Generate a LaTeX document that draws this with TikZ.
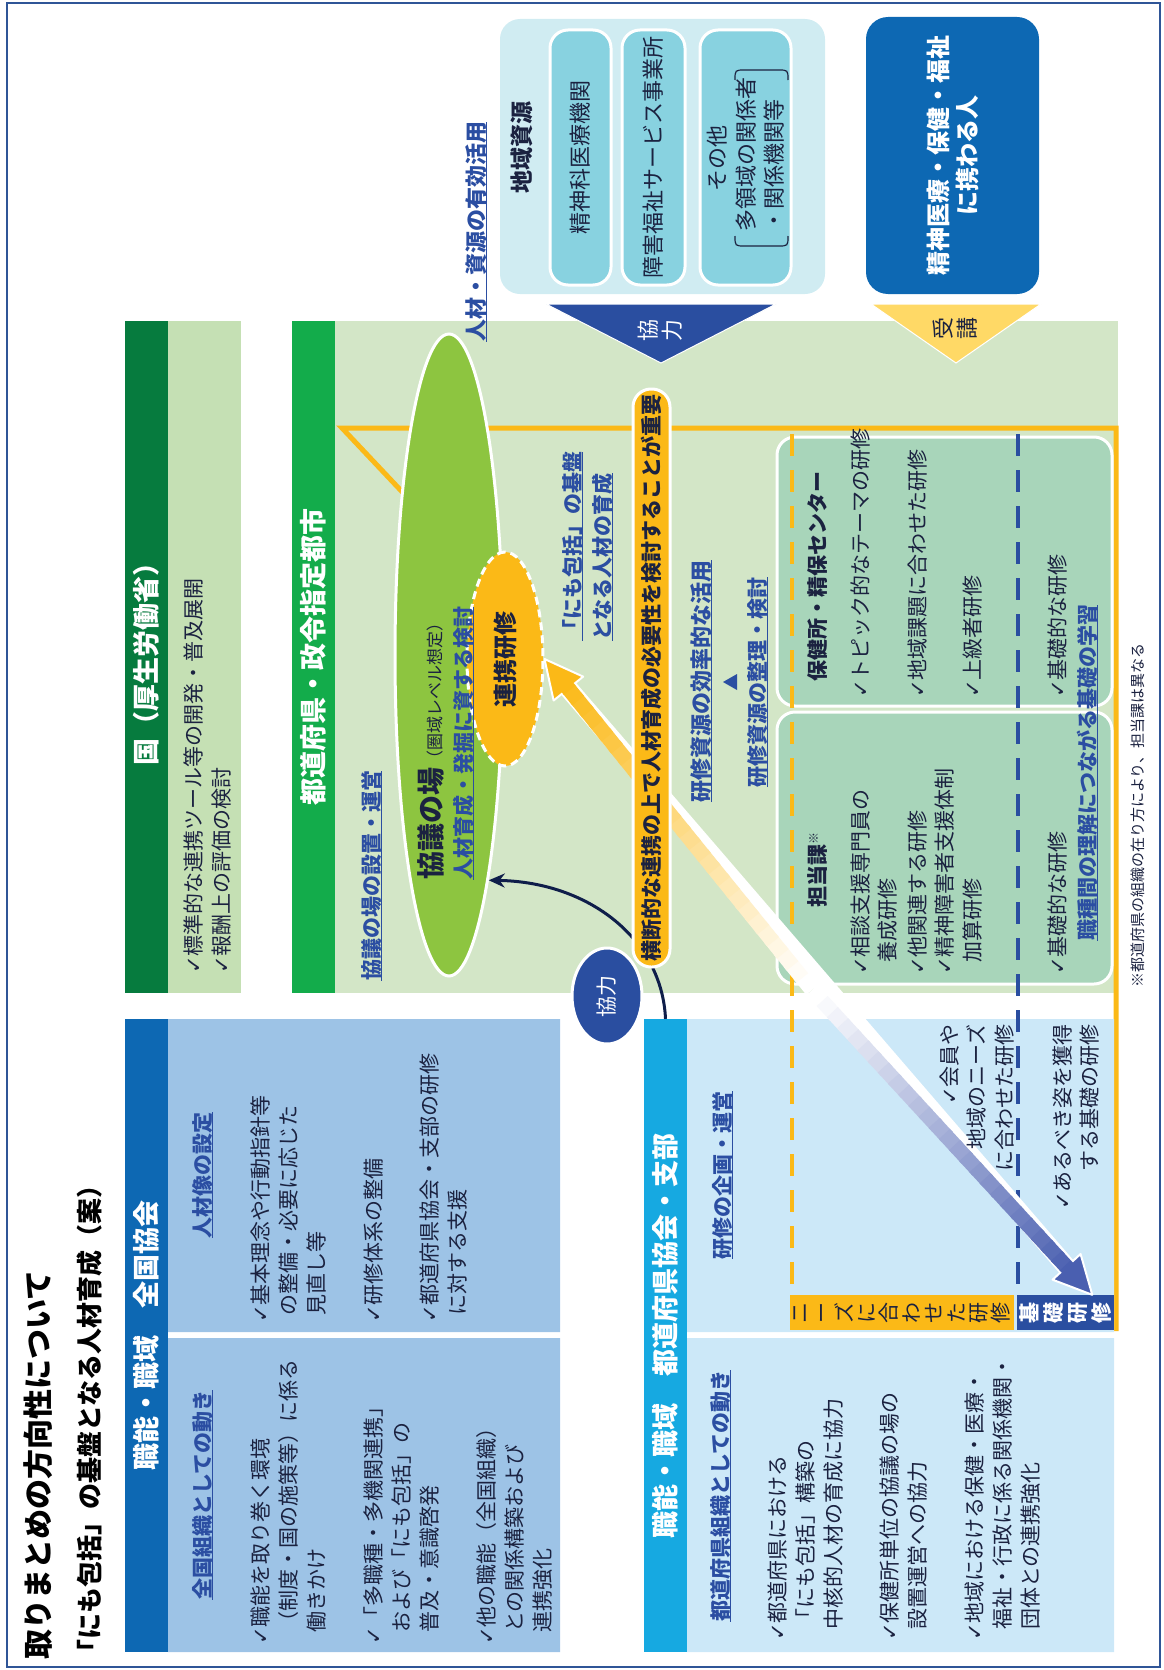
\documentclass[tikz,border=0pt]{standalone}
\usepackage{fontspec}
\setmainfont{Noto Sans CJK JP}
\newfontfamily\symf{DejaVu Sans}
\usetikzlibrary{shapes.geometric, calc, arrows.meta}

\definecolor{ink}{HTML}{1B2240}
\definecolor{bluetxt}{HTML}{2B4EA2}
\definecolor{frameblue}{HTML}{2F5597}
\definecolor{aHead}{HTML}{0D68B3}
\definecolor{aBody}{HTML}{9DC3E6}
\definecolor{kuniHead}{HTML}{067B3E}
\definecolor{kuniBody}{HTML}{C5E0B4}
\definecolor{todoHead}{HTML}{13AC4B}
\definecolor{todoBody}{HTML}{D3E6C7}
\definecolor{bHead}{HTML}{16A9E1}
\definecolor{bBody}{HTML}{CCE8F8}
\definecolor{chiikiOut}{HTML}{D0ECF2}
\definecolor{chiikiSub}{HTML}{88D2E0}
\definecolor{kyoBlue}{HTML}{2A4EA0}
\definecolor{jukou}{HTML}{FFD966}
\definecolor{orng}{HTML}{FBB917}
\definecolor{ellGreen}{HTML}{8DC540}
\definecolor{boxGreen}{HTML}{A8D5BA}
\definecolor{navyc}{HTML}{0F1E4A}
\definecolor{arrBlue}{HTML}{4A5FB0}

\newcommand\fsz[2]{\fontsize{#1}{#2}\selectfont}
\newcommand\chk{{\symf ✓}}
\newcommand\uln[1]{\setbox0=\hbox{#1}\rlap{\rule[-3pt]{\wd0}{1.3pt}}\box0}

\tikzset{
  ln/.style={rotate=90, anchor=base west, inner sep=0pt, text=ink, font=\fsz{21}{28}},
  lnr/.style={ln, anchor=base east},
  sec/.style={rotate=90, anchor=base, inner sep=0pt, text=bluetxt, font=\bfseries\fsz{21}{28}},
  secl/.style={sec, anchor=base west},
  hdr/.style={rotate=90, inner sep=0pt, text=white, font=\bfseries\fsz{27}{32}, minimum height=43pt},
  subbox/.style={rotate=90, rounded corners=18pt, fill=chiikiSub, draw=white, line width=3pt,
    inner sep=0pt, text=ink, font=\fsz{22}{28}, minimum width=255pt},
  gbox/.style={fill=boxGreen, draw=white, line width=3pt, rounded corners=18pt},
  dashln/.style={line width=4pt, dash pattern=on 22pt off 14pt}
}

\begin{document}
\begin{tikzpicture}[x=1pt, y=-1pt]
\useasboundingbox (0,0) rectangle (1163,1670);
\draw[frameblue, line width=1.5pt] (7,3) rectangle (1160,1667);

% titles
\node[ln, font=\bfseries\fsz{30}{36}, text=black] (title) at (49,1660) {取りまとめの方向性について};
\node[ln, font=\bfseries\fsz{26}{32}, text=black] (subtitle) at (99,1666) {「にも包括」の基盤となる人材育成（案）};

% chiiki shigen
\fill[chiikiOut, rounded corners=20pt] (500,19) rectangle (825,294);
\node[subbox, minimum height=61pt] (sb1) at (580.5,157.5) {精神科医療機関};
\node[subbox, minimum height=63pt] (sb2) at (653.5,157.5) {障害福祉サービス事業所};
\node[subbox, minimum height=91pt] (sb3) at (745.5,157.5) {};
\node[rotate=90, text=ink, font=\fsz{22}{28}] (sonota) at (717,158) {その他};
\node[ln, font=\fsz{22}{28}] (tary1) at (754,232) {多領域の関係者};
\node[ln, font=\fsz{22}{28}] (tary2) at (782,232) {・関係機関等};
\draw[ink, line width=1.2pt] (735,236) .. controls (735,246) .. (745,246) -- (778,246) .. controls (788,246) .. (788,236);
\draw[ink, line width=1.2pt] (735,80) .. controls (735,70) .. (745,70) -- (778,70) .. controls (788,70) .. (788,80);
\node[rotate=90, text=ink, font=\bfseries\fsz{23}{28}] (chiiki) at (522,147) {地域資源};
\node[rotate=90, rounded corners=22pt, fill=aHead, minimum width=277pt, minimum height=173pt,
  text=white, font=\bfseries\fsz{24}{29}, align=center] (seishin) at (952.5,155.5) {精神医療・保健・福祉\\に携わる人};

% kuni
\fill[kuniBody] (168,321) rectangle (241,993);
\node[hdr, fill=kuniHead, minimum width=672pt] (kuni) at (146.5,657) {国（厚生労働省）};
\node[ln] (k1) at (201,974) {\chk 標準的な連携ツール等の開発・普及展開};
\node[ln] (k2) at (229,974) {\chk 報酬上の評価の検討};

% todofuken
\fill[todoBody] (335,321) rectangle (1118,993);
\node[hdr, fill=todoHead, minimum width=672pt] (todo) at (313.5,657) {都道府県・政令指定都市};
\node[secl, font=\bfseries\fsz{22}{28}] (katsuyo) at (484,342) {\uln{人材・資源の有効活用}};

% triangles
\filldraw[fill=kyoBlue, draw=white, line width=1pt] (546,304) -- (776,304) -- (661,363) -- cycle;
\node[rotate=90, text=white, font=\fsz{22}{24}, align=center] (kyotri) at (660,330) {協\\力};
\filldraw[fill=jukou, draw=white, line width=1pt] (871,304) -- (1041,304) -- (956,363) -- cycle;
\node[rotate=90, text=ink, font=\fsz{22}{24}, align=center] (jukotri) at (955,328) {受\\講};

% orange frame
\draw[orng, line width=5pt] (440,532) -- (342,428) -- (1116,428) -- (1116,1331);

% zenkoku kyokai
\fill[aBody] (168,1019) rectangle (560,1332) (168,1338) rectangle (560,1652);
\node[hdr, fill=aHead, minimum width=633pt] (ahead) at (146.5,1335.5) {職能・職域　全国協会};
% todofuken kyokai
\fill[bBody] (687,1019) rectangle (1114,1332) (687,1338) rectangle (1114,1652);
\node[hdr, fill=bHead, minimum width=633pt] (bhead) at (665.5,1335.5) {職能・職域　都道府県協会・支部};

% hokenjo / tantoka
\draw[gbox] (777,437) rectangle (1112,706);
\draw[gbox] (777,712) rectangle (1112,984);
\draw[dashln, orng] (792,434) -- (792,1295);
\draw[dashln, kyoBlue] (1018,434) -- (1018,1295);
\node[rotate=90, fill=orng, minimum width=35pt, minimum height=224pt, inner sep=0pt, text=ink,
  font=\fsz{21}{22.4}, align=center] (needs) at (902,1312.5) {ニ\\ー\\ズ\\に\\合\\わ\\せ\\た\\研\\修};
\node[rotate=90, fill=kyoBlue, minimum width=35pt, minimum height=97pt, inner sep=0pt, text=white,
  font=\bfseries\fsz{21}{24}, align=center] (kiso) at (1065.5,1312.5) {基\\礎\\研\\修};

% ellipses
\node[ellipse, fill=ellGreen, draw=white, line width=3pt, minimum width=108pt, minimum height=642pt,
  inner sep=0pt] (kyogi) at (449,655) {};
\node[ellipse, rotate=90, fill=orng, draw=white, line width=3pt, dash pattern=on 8pt off 5pt,
  minimum width=214pt, minimum height=76pt, inner sep=0pt, text=ink, font=\bfseries\fsz{24}{28}] (renkei) at (505,659) {連携研修};

% connector
\draw[navyc, line width=3pt, -{Stealth[length=16pt, width=14pt]}] (bhead.east) .. controls (662,940) and (590,882) .. (kyogi.-80);

% double gradient arrow
\coordinate (mid) at (812,990);
\coordinate (tipY) at (renkei.south);
\coordinate (tipB) at ($(kiso.east)!0.55!(kiso.south east)$);
\coordinate (hY) at ($(tipY)!38pt!(mid)$);
\coordinate (hB) at ($(tipB)!38pt!(mid)$);
\draw[white, line width=19pt] (hY) -- (hB);
\foreach \i [evaluate=\i as \pc using 4*\i] in {0,...,24} {
  \draw[line width=15pt, draw=orng!\pc!white] ($(mid)!{\i/25}!(hY)$) -- ($(mid)!{(\i+1.3)/25}!(hY)$);
  \draw[line width=15pt, draw=arrBlue!\pc!white] ($(mid)!{\i/25}!(hB)$) -- ($(mid)!{(\i+1.3)/25}!(hB)$);
}
\filldraw[fill=orng, draw=white, line width=2pt, line join=round] ($(hY)!19pt!90:(tipY)$) -- (tipY) -- ($(hY)!19pt!-90:(tipY)$) -- cycle;
\filldraw[fill=arrBlue, draw=white, line width=2pt, line join=round] ($(hB)!19pt!90:(tipB)$) -- (tipB) -- ($(hB)!19pt!-90:(tipB)$) -- cycle;
\draw[line width=15pt, draw=orng] ($(hY)!-2pt!(tipY)$) -- ($(hY)!4pt!(tipY)$);
\draw[line width=15pt, draw=arrBlue] ($(hB)!-2pt!(tipB)$) -- ($(hB)!4pt!(tipB)$);

% bar and circle
\node[rotate=90, fill=orng, draw=white, line width=3pt, rounded corners=18pt, minimum width=578pt,
  minimum height=37pt, inner sep=0pt, text=ink, font=\bfseries\fsz{21}{24}] (oudan) at (651.5,678)
  {横断的な連携の上で人材育成の必要性を検討することが重要};
\node[ellipse, rotate=90, fill=kyoBlue, draw=white, line width=3pt, minimum width=96pt, minimum height=70pt,
  inner sep=0pt, text=white, font=\fsz{21}{24}] (kyocirc) at (607,996) {協力};

% texts in todofuken
\node[secl] (secchi) at (379,981) {\uln{協議の場の設置・運営}};
\node[ln, font=\bfseries\fsz{28}{32}] (kyogiT) at (441,880) {協議の場{\mdseries\fsz{17}{20}（圏域レベル想定）}};
\node[secl] (hakkutsu) at (471,880) {\uln{人材育成・発掘に資する検討}};
\node[secl] (kiban1) at (580,641) {\uln{「にも包括」の基盤}};
\node[secl] (kiban2) at (610,641) {\uln{となる人材の育成}};
\node[sec, font=\bfseries\fsz{22}{28}] (koritsu) at (709,681) {\uln{研修資源の効率的な活用}};
\fill[bluetxt] (723,682) -- (737,674) -- (737,690) -- cycle;
\node[sec] (seiri) at (765,682) {\uln{研修資源の整理・検討}};

\node[ln, font=\bfseries\fsz{21}{28}] (hokenT) at (825,682) {保健所・精保センター};
\foreach \bx/\by/\txt [count=\n] in {868/698/{\chk トピック的なテーマの研修}, 925/698/{\chk 地域課題に合わせた研修},
    980/698/{\chk 上級者研修}, 1065/698/{\chk 基礎的な研修}}
  \node[ln] (hk\n) at (\bx,\by) {\txt};
\node[ln, font=\bfseries\fsz{21}{28}] (tantoT) at (825,908) {担当課\raisebox{7pt}{\mdseries\fsz{12}{12}※}};
\foreach \bx/\by/\txt [count=\n] in {868/975/{\chk 相談支援専門員の}, 895/963/{養成研修}, 925/975/{\chk 他関連する研修},
    952/975/{\chk 精神障害者支援体制}, 980/963/{加算研修}, 1065/975/{\chk 基礎的な研修}}
  \node[ln] (tk\n) at (\bx,\by) {\txt};
\node[secl] (shokushu) at (1095,941) {\uln{職種間の理解につながる基礎の学習}};
\node[ln, font=\fsz{15}{18}] (note) at (1143,988) {※都道府県の組織の在り方により、担当課は異なる};

% texts in zenkoku kyokai
\node[sec] (jinzai) at (210,1175) {\uln{人材像の設定}};
\node[sec] (zenkoku) at (210,1495) {\uln{全国組織としての動き}};
\foreach \bx/\by/\txt [count=\n] in {268/1323/{\chk 基本理念や行動指針等}, 296/1316/{の整備・必要に応じた},
    324/1316/{見直し等}, 381/1323/{\chk 研修体系の整備}, 437/1323/{\chk 都道府県協会・支部の研修},
    465/1316/{に対する支援}}
  \node[ln] (au\n) at (\bx,\by) {\txt};
\foreach \bx/\by/\txt [count=\n] in {268/1645/{\chk 職能を取り巻く環境}, 296/1633/{（制度・国の施策等）に係る},
    324/1633/{働きかけ}, 381/1645/{\chk 「多職種・多機関連携」}, 409/1633/{および「にも包括」の},
    437/1633/{普及・意識啓発}, 494/1645/{\chk 他の職能（全国組織）}, 522/1633/{との関係構築および},
    550/1633/{連携強化}}
  \node[ln] (al\n) at (\bx,\by) {\txt};

% texts in todofuken kyokai
\node[sec] (kikaku) at (730,1175) {\uln{研修の企画・運営}};
\node[sec] (todoso) at (728,1496) {\uln{都道府県組織としての動き}};
\foreach \bx/\txt [count=\n] in {957/{\chk 会員や}, 984/{地域のニーズ}, 1012/{に合わせた研修},
    1070/{\chk あるべき姿を獲得}, 1097/{する基礎の研修}}
  \node[lnr] (bu\n) at (\bx,1024) {\txt};
\foreach \bx/\by/\txt [count=\n] in {785/1641/{\chk 都道府県における}, 813/1630/{「にも包括」構築の},
    841/1630/{中核的人材の育成に協力}, 897/1641/{\chk 保健所単位の協議の場の}, 925/1630/{設置運営への協力},
    982/1641/{\chk 地域における保健・医療・}, 1010/1630/{福祉・行政に係る関係機関・},
    1038/1630/{団体との連携強化}}
  \node[ln] (bl\n) at (\bx,\by) {\txt};
\end{tikzpicture}
\end{document}
